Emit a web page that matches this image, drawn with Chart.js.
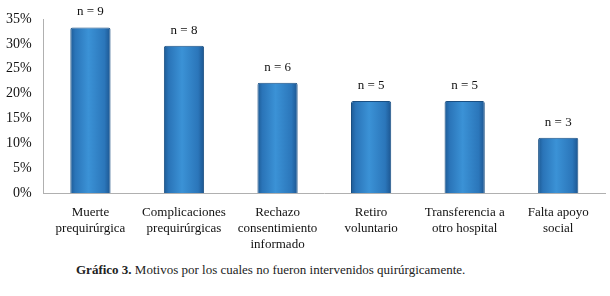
<!DOCTYPE html>
<html>
<head>
<meta charset="utf-8">
<script src="https://cdn.jsdelivr.net/npm/chart.js@4/dist/chart.umd.min.js"></script>
<style>
  body { margin: 0; background: #fff; }
  #wrap { position: relative; width: 610px; height: 257px; }
  #caption { position: absolute; top: 262px; left: 76px; width: 534px; text-align: left;
    font-family: "Liberation Serif", serif; font-size: 13px; color: #222; }
</style>
</head>
<body>
<div id="wrap"><canvas id="motivos"></canvas></div>
<div id="caption"><b>Gráfico 3.</b> Motivos por los cuales no fueron intervenidos quirúrgicamente.</div>
<script>
  // Motivos - categorias y valores
  const categorias = [
    ["Muerte", "prequirúrgica"],
    ["Complicaciones", "prequirúrgicas"],
    ["Rechazo", "consentimiento", "informado"],
    ["Retiro", "voluntario"],
    ["Transferencia a", "otro hospital"],
    ["Falta apoyo", "social"]
  ];
  const casos = [9, 8, 6, 5, 5, 3];
  const porcentajes = [33.3, 29.6, 22.2, 18.5, 18.5, 11.1];
  const ticksY = [0, 5, 10, 15, 20, 25, 30, 35];

  const barPct = 0.43;

  function barGradient(context) {
    const chart = context.chart;
    const x = chart.scales.x;
    if (!x || !(x.width > 0)) return "#2f7dc4";
    const cx = x.getPixelForValue(context.dataIndex);
    const w = (x.width / categorias.length) * barPct;
    if (!isFinite(cx) || !isFinite(w)) return "#2f7dc4";
    const g = chart.ctx.createLinearGradient(cx - w / 2, 0, cx + w / 2, 0);
    g.addColorStop(0, "#1d5a94");
    g.addColorStop(0.12, "#2a74b8");
    g.addColorStop(0.45, "#3b92d6");
    g.addColorStop(0.85, "#2b76ba");
    g.addColorStop(1, "#1c5590");
    return g;
  }

  const etiquetas = {
    id: "etiquetas",
    afterDatasetsDraw(chart) {
      const ctx = chart.ctx;
      const meta = chart.getDatasetMeta(0);
      ctx.save();
      ctx.font = "13px 'Liberation Serif'";
      ctx.fillStyle = "#111";
      ctx.textAlign = "center";
      ctx.textBaseline = "bottom";
      meta.data.forEach(function(bar, i) {
        ctx.fillText("n = " + casos[i], bar.x, bar.y - 9);
      });
      ctx.restore();
    }
  };

  new Chart(document.getElementById("motivos").getContext("2d"), {
    type: "bar",
    data: {
      labels: categorias,
      datasets: [{
        data: porcentajes,
        backgroundColor: barGradient,
        borderColor: "#1a4f82",
        borderWidth: 1,
        borderRadius: 2,
        barPercentage: barPct,
        categoryPercentage: 1
      }]
    },
    options: {
      responsive: true,
      maintainAspectRatio: false,
      animation: false,
      layout: { padding: { top: 19, right: 5, left: 2 } },
      scales: {
        y: {
          min: 0,
          max: 35,
          afterBuildTicks: function(axis) {
            axis.ticks = ticksY.map(function(v) { return { value: v }; });
          },
          grid: { display: false },
          border: { display: true, color: "#b0b0b0" },
          ticks: {
            padding: 4,
            color: "#111",
            font: { family: "Liberation Serif", size: 14 },
            callback: function(value) { return value + "%"; }
          }
        },
        x: {
          grid: { display: false },
          border: { display: true, color: "#b0b0b0" },
          ticks: {
            maxRotation: 0,
            autoSkip: false,
            padding: 4,
            color: "#111",
            font: { family: "Liberation Serif", size: 13, lineHeight: 1.23 }
          }
        }
      },
      plugins: {
        legend: { display: false },
        tooltip: { enabled: false }
      }
    },
    plugins: [etiquetas]
  });
</script>
</body>
</html>
